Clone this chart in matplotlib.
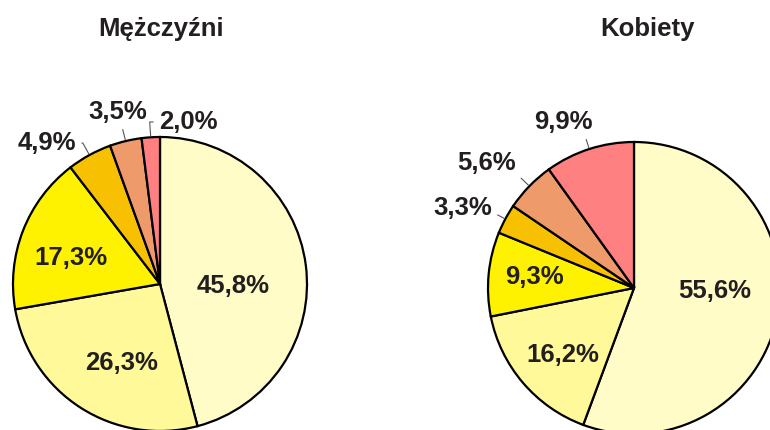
import numpy as np
import matplotlib.pyplot as plt

# Data
men_vals = [45.8, 26.3, 17.3, 4.9, 3.5, 2.0]
women_vals = [55.6, 16.2, 9.3, 3.3, 5.6, 9.9]
titles = ['Mężczyźni', 'Kobiety']
colors = ['#FFFCC8', '#FFF99A', '#FFF200', '#F7C000', '#EE9A6A', '#FF8080']

def fmt(v):
    return ('%.1f%%' % v).replace('.', ',')

plt.rcParams['font.family'] = ['Liberation Sans', 'DejaVu Sans']
txt_col = '#231F20'

fig = plt.figure(figsize=(7.7, 4.3), dpi=100)
ax = fig.add_axes([0, 0, 1, 1])

# layout in pixel coords (y up)
pies = [
    dict(vals=men_vals, center=(160, 146), r=147, title_xy=(161, 401),
         label_xy=[(233, 144), (122, 67), (71, 172), (47, 287), (118, 318), (188, 308)]),
    dict(vals=women_vals, center=(634, 142), r=146, title_xy=(648, 401),
         label_xy=[(715, 139), (563, 75), (534, 153), (463, 222), (487, 267), (563, 308)]),
]

for p, title in zip(pies, titles):
    cx, cy = p['center']
    r = p['r']
    wedges, _ = ax.pie(p['vals'], colors=colors, startangle=90, counterclock=False,
                       center=(cx, cy), radius=r,
                       wedgeprops=dict(edgecolor='black', linewidth=1.6))
    for i, (w, v) in enumerate(zip(wedges, p['vals'])):
        mid = np.deg2rad((w.theta1 + w.theta2) / 2)
        tx, ty = p['label_xy'][i]
        if i < 3:
            ax.text(tx, ty, fmt(v), ha='center', va='center', fontsize=18.5,
                    fontweight='bold', color=txt_col)
        else:
            ex, ey = cx + r * np.cos(mid), cy + r * np.sin(mid)
            ax.annotate(fmt(v), xy=(ex, ey), xytext=(tx, ty),
                        ha='center', va='center', fontsize=18.5, fontweight='bold', color=txt_col,
                        arrowprops=dict(arrowstyle='-', color='#555555', lw=0.8,
                                        shrinkA=2, shrinkB=1,
                                        connectionstyle='angle,angleA=0,angleB=%d,rad=0'
                                        % int(np.rad2deg(mid))))
    ax.text(*p['title_xy'], title, ha='center', va='center', fontsize=18.5,
            fontweight='bold', color=txt_col)

ax.set_xlim(0, 770)
ax.set_ylim(0, 430)
ax.set_aspect('equal')
ax.axis('off')

plt.savefig('out.png', dpi=100)
